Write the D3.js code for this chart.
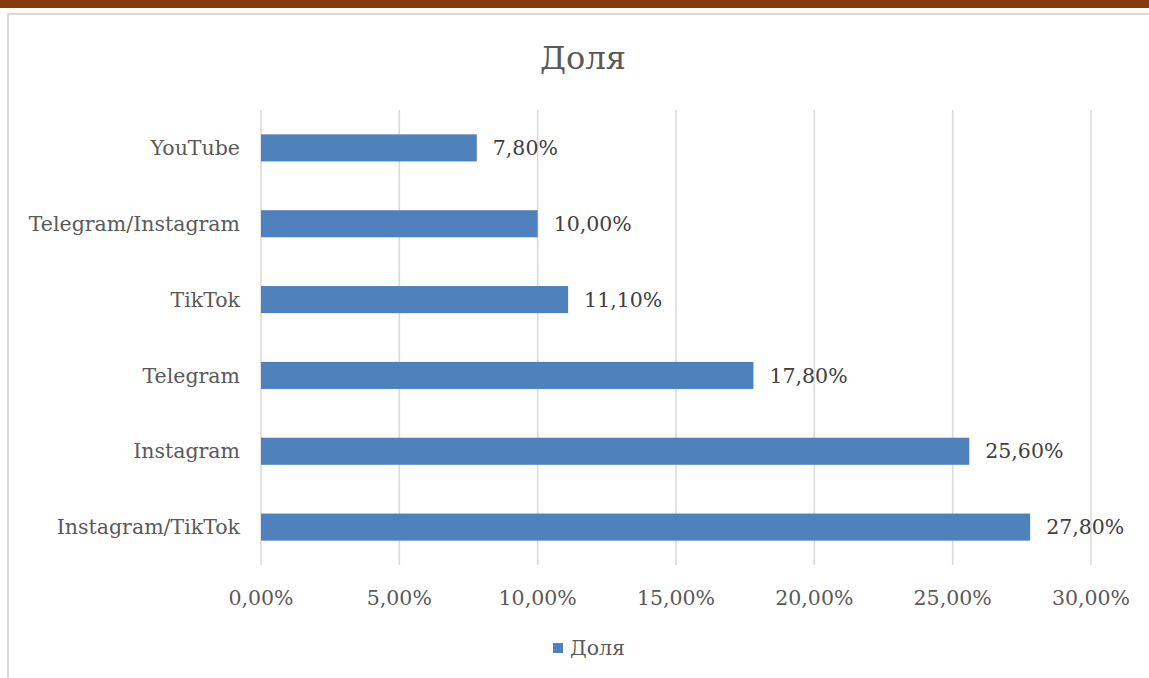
<!DOCTYPE html>
<html><head><meta charset="utf-8">
<script src="https://cdn.jsdelivr.net/npm/d3@7"></script>
<style>body{margin:0;background:#fff;} svg{display:block;}</style>
</head><body>
<svg id="c" width="1149" height="678"></svg>
<script>
const categories = ["YouTube","Telegram/Instagram","TikTok","Telegram","Instagram","Instagram/TikTok"];
const values = [7.8, 10.0, 11.1, 17.8, 25.6, 27.8];
const ticks = [0,5,10,15,20,25,30];
const title = "Доля";
const seriesName = "Доля";

const svg = d3.select("#c");
const font = "'DejaVu Serif', serif";
const fmt = v => v.toFixed(2).replace(".", ",") + "%";

svg.append("rect").attr("x",0).attr("y",0).attr("width",1149).attr("height",8).attr("fill","#843C0C");
svg.append("rect").attr("x",8).attr("y",14).attr("width",1160).attr("height",700)
  .attr("fill","#fff").attr("stroke","#d9d9d9").attr("stroke-width",2);

const x = d3.scaleLinear().domain([0,30]).range([261,1091]);
const y = d3.scaleBand().domain(categories).range([110,565]).paddingInner(0.643).paddingOuter(0.3215);

svg.append("g").selectAll("line").data(ticks).join("line")
  .attr("x1",d=>x(d)).attr("x2",d=>x(d)).attr("y1",110).attr("y2",565)
  .attr("stroke","#d9d9d9").attr("stroke-width",1.5);

svg.append("g").selectAll("rect").data(values).join("rect")
  .attr("x",x(0)).attr("y",(d,i)=>y(categories[i]))
  .attr("width",d=>x(d)-x(0)).attr("height",y.bandwidth())
  .attr("fill","#4F81BD");

const fs = 20.5;
svg.append("g").selectAll("text").data(values).join("text")
  .attr("x",d=>x(d)+16).attr("y",(d,i)=>y(categories[i])+y.bandwidth()/2)
  .attr("dy","0.35em").attr("font-family",font).attr("font-size",fs)
  .attr("fill","#404040").text(d=>fmt(d));

svg.append("g").selectAll("text").data(categories).join("text")
  .attr("x",240).attr("y",d=>y(d)+y.bandwidth()/2).attr("dy","0.35em")
  .attr("text-anchor","end").attr("font-family",font).attr("font-size",fs)
  .attr("fill","#595959").text(d=>d);

svg.append("g").selectAll("text").data(ticks).join("text")
  .attr("x",d=>x(d)).attr("y",598).attr("dy","0.35em")
  .attr("text-anchor","middle").attr("font-family",font).attr("font-size",fs)
  .attr("fill","#595959").text(d=>fmt(d));

svg.append("text").attr("x",583).attr("y",58).attr("dy","0.35em").attr("text-anchor","middle")
  .attr("font-family",font).attr("font-size",32).attr("fill","#595959").text(title);

svg.append("rect").attr("x",553).attr("y",643).attr("width",10).attr("height",10).attr("fill","#4F81BD");
svg.append("text").attr("x",570).attr("y",648).attr("dy","0.35em")
  .attr("font-family",font).attr("font-size",fs).attr("fill","#595959").text(seriesName);
</script>
</body></html>
